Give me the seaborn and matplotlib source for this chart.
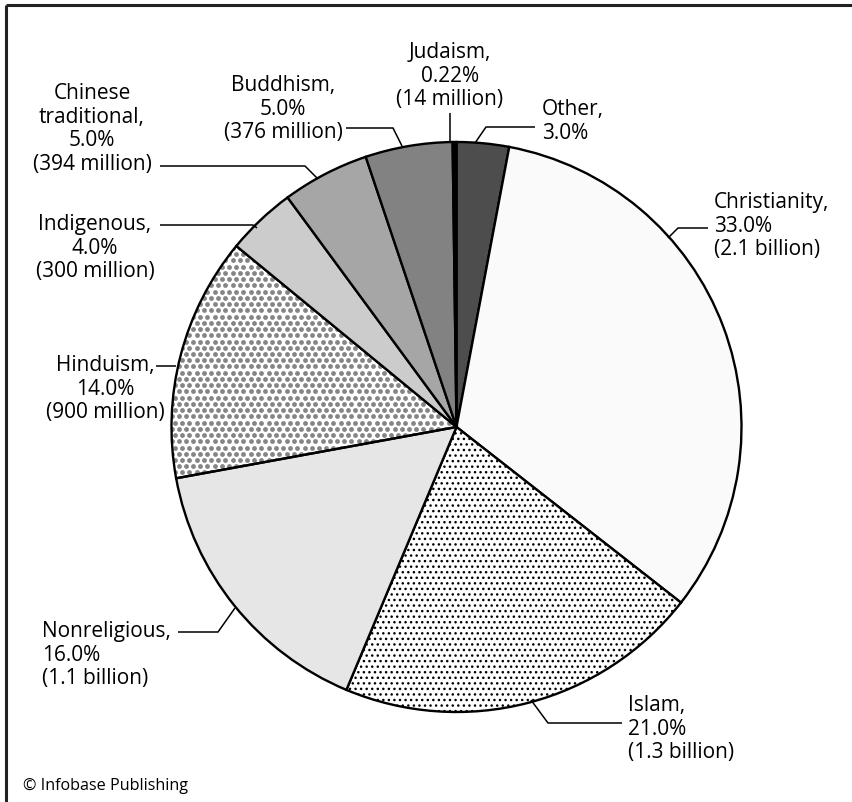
import numpy as np
import pandas as pd
import matplotlib
matplotlib.use("Agg")
import matplotlib.pyplot as plt
import seaborn as sns

# ---- data ----
religions = ["Other", "Christianity", "Islam", "Nonreligious", "Hinduism",
             "Indigenous", "Chinese traditional", "Buddhism", "Judaism"]
shares = [3.0, 33.0, 21.0, 16.0, 14.0, 4.0, 5.0, 5.0, 0.22]
share_text = ["3.0%", "33.0%", "21.0%", "16.0%", "14.0%", "4.0%", "5.0%", "5.0%", "0.22%"]
followers = ["", "2.1 billion", "1.3 billion", "1.1 billion", "900 million",
             "300 million", "394 million", "376 million", "14 million"]
name_lines = [["Other,"], ["Christianity,"], ["Islam,"], ["Nonreligious,"], ["Hinduism,"],
              ["Indigenous,"], ["Chinese", "traditional,"], ["Buddhism,"], ["Judaism,"]]
credit = "© Infobase Publishing"

df = pd.DataFrame({"religion": religions, "share": shares})

# ---- style ----
sns.set_theme(style="white")
plt.rcParams["font.family"] = ["Open Sans", "DejaVu Sans"]

W, H = 852, 802
fig = plt.figure(figsize=(W / 100, H / 100), dpi=100)
ax = fig.add_axes([0, 0, 1, 1])

def Y(y):
    return H - y

colors = ["#4d4d4d", "#fafafa", "#ffffff", "#e6e6e6", "none",
          "#cccccc", "#a6a6a6", "#828282", "#000000"]

cx, cy, R = 456.5, 427, 285
wedges, _ = ax.pie(df["share"], colors=colors, startangle=90, counterclock=False,
                   center=(cx, Y(cy)), radius=R,
                   wedgeprops=dict(edgecolor="black", linewidth=1.7))
wedges[2].set_hatch("...")
wedges[4].set_facecolor("none")

# stipple texture for Hinduism wedge
sp = 7.2
xs, ys = [], []
for j, yy in enumerate(np.arange(cy - R, cy + R, sp * 0.866)):
    off = (sp / 2) if j % 2 else 0
    for xx in np.arange(cx - R + off, cx + R, sp):
        xs.append(xx)
        ys.append(Y(yy))
dots = pd.DataFrame({"x": xs, "y": ys})
sns.scatterplot(data=dots, x="x", y="y", ax=ax, s=12, color="#858585",
                linewidth=0, legend=False, zorder=0.5)
ax.collections[-1].set_clip_path(wedges[4])

# ---- labels ----
# (anchor x, first baseline y, ha)
label_pos = [(542, 115, "left"), (714, 208, "left"), (628, 711, "left"),
             (42, 637, "left"), (105, 371, "center"), (95, 230, "center"),
             (92, 99, "center"), (283, 91, "center"), (450, 58, "center")]
leaders = [[(535, 127), (486, 127), (475, 143)],
           [(708, 228), (678, 228), (668, 238)],
           [(622, 723), (548, 723), (531, 700)],
           [(178, 632), (218, 632), (235, 608)],
           [(156, 366), (176, 366)],
           [(160, 225), (253, 225), (257, 228)],
           [(160, 166), (305, 166), (318, 179)],
           [(346, 128), (393, 128), (402, 146)],
           [(449.5, 113), (449.5, 142)]]
step = 23.6
for i in range(len(religions)):
    lines = list(name_lines[i]) + [share_text[i]]
    if followers[i]:
        lines.append("(" + followers[i] + ")")
    x0, y0, ha = label_pos[i]
    for k, t in enumerate(lines):
        ax.text(x0, Y(y0 + k * step), t, ha=ha, va="baseline", fontsize=15, color="black")
    pts = leaders[i]
    ax.plot([p[0] for p in pts], [Y(p[1]) for p in pts], color="black", lw=1.1,
            solid_capstyle="butt", zorder=3)

ax.text(23, Y(790), credit, ha="left", va="baseline", fontsize=11.6, color="black")

# frame lines (top and left)
ax.plot([6, W], [Y(4.5), Y(4.5)], color="#222222", lw=2.2, solid_capstyle="butt")
ax.plot([6, 6], [Y(4.5), 0], color="#222222", lw=2.2, solid_capstyle="butt")

ax.set_xlim(0, W)
ax.set_ylim(0, H)
ax.set_aspect("equal")
ax.axis("off")

fig.savefig("out.png", dpi=100)
